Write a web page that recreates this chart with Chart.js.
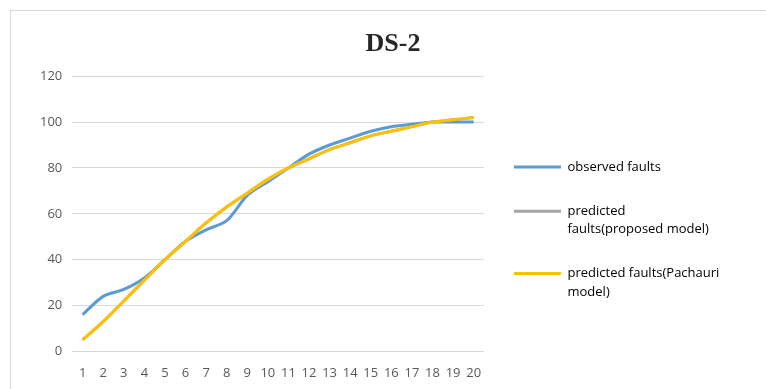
<!DOCTYPE html>
<html>
<head>
<meta charset="utf-8">
<script src="https://cdn.jsdelivr.net/npm/chart.js@4.4.0/dist/chart.umd.min.js"></script>
<style>
  body { margin: 0; background: #fff; }
  #wrap { position: relative; width: 766px; height: 389px; overflow: hidden; }
  #frame { position: absolute; left: 10px; top: 10px; width: 800px; height: 420px; border: 1px solid #d9d9d9; }
  canvas { position: absolute; left: 0; top: 0; }
</style>
</head>
<body>
<div id="wrap">
  <div id="frame"></div>
  <canvas id="chartLine" width="766" height="389"></canvas>
</div>
<script>
var labels = ["1", "2", "3", "4", "5", "6", "7", "8", "9", "10", "11", "12", "13", "14", "15", "16", "17", "18", "19", "20"];
var observed = [16, 24, 27, 32, 40, 48, 53, 57, 68, 74, 80, 86, 90, 93, 96, 98, 99, 100, 100, 100];
var proposed = [5, 13, 22, 31, 40, 48, 56, 63, 69, 75, 80, 84, 88, 91, 94, 96, 98, 100, 101, 102];
var pachauri = [5, 13, 22, 31, 40, 48, 56, 63, 69, 75, 80, 84, 88, 91, 94, 96, 98, 100, 101, 102];
var yTicks = [0, 20, 40, 60, 80, 100, 120];

var legendText = [
    ["observed faults"],
    ["predicted", "faults(proposed model)"],
    ["predicted faults(Pachauri", "model)"]
];

var ourLine = document.getElementById("chartLine");

// legend keeps a fixed width and sits a bit lower, like the Excel original
var legendPlace = {
    id: 'legendPlace',
    afterInit: function (chart) {
        var fit = chart.legend.fit;
        chart.legend.fit = function () {
            fit.call(this);
            this.width = 272;
            this.right = this.left + 272;
        };
    },
    afterLayout: function (chart) {
        chart.legend.top += 24;
        chart.legend.bottom += 24;
        chart.legend.left += 4;
        chart.legend.right += 4;
    }
};

var lineChart = new Chart(ourLine, {
    type: 'line',
    data: {
        labels: labels,
        datasets: [
            {
                label: 'observed faults',
                data: observed,
                borderColor: '#5b9bd5',
                backgroundColor: '#5b9bd5',
                borderWidth: 3,
                order: 2
            },
            {
                label: 'predicted faults(proposed model)',
                data: proposed,
                borderColor: '#a5a5a5',
                backgroundColor: '#a5a5a5',
                borderWidth: 3,
                order: 1
            },
            {
                label: 'predicted faults(Pachauri model)',
                data: pachauri,
                borderColor: '#ffc000',
                backgroundColor: '#ffc000',
                borderWidth: 3,
                order: 0
            }
        ]
    },
    plugins: [legendPlace],
    options: {
        responsive: false,
        animation: false,
        elements: {
            point: { radius: 0 },
            line: { tension: 0.3 }
        },
        layout: {
            padding: { left: 30, right: 10, top: 29, bottom: 2 }
        },
        scales: {
            x: {
                offset: true,
                grid: { display: false },
                border: { display: false },
                ticks: {
                    autoSkip: false,
                    maxRotation: 0,
                    padding: 6,
                    color: '#595959',
                    font: { family: 'Open Sans', size: 13 }
                }
            },
            y: {
                min: 0,
                max: 120,
                afterBuildTicks: function (axis) {
                    axis.ticks = yTicks.map(function (v) { return { value: v }; });
                },
                grid: { color: '#d9d9d9', drawTicks: false },
                border: { display: false },
                ticks: {
                    padding: 10,
                    color: '#595959',
                    font: { family: 'Open Sans', size: 13 }
                }
            }
        },
        plugins: {
            title: {
                display: true,
                text: 'DS-2',
                color: '#262626',
                padding: { top: 0, bottom: 16 },
                font: { family: 'Liberation Serif', size: 26, weight: 'bold' }
            },
            legend: {
                position: 'right',
                align: 'center',
                labels: {
                    usePointStyle: true,
                    pointStyle: 'line',
                    pointStyleWidth: 47,
                    padding: 26,
                    color: '#595959',
                    font: { family: 'Open Sans', size: 13, lineHeight: 1.4 },
                    sort: function (a, b) { return a.datasetIndex - b.datasetIndex; },
                    generateLabels: function (chart) {
                        return chart.data.datasets.map(function (ds, i) {
                            return {
                                text: legendText[i],
                                fillStyle: ds.borderColor,
                                strokeStyle: ds.borderColor,
                                lineWidth: 3,
                                pointStyle: 'line',
                                datasetIndex: i
                            };
                        });
                    }
                }
            },
            tooltip: { enabled: false }
        }
    }
});
</script>
</body>
</html>
